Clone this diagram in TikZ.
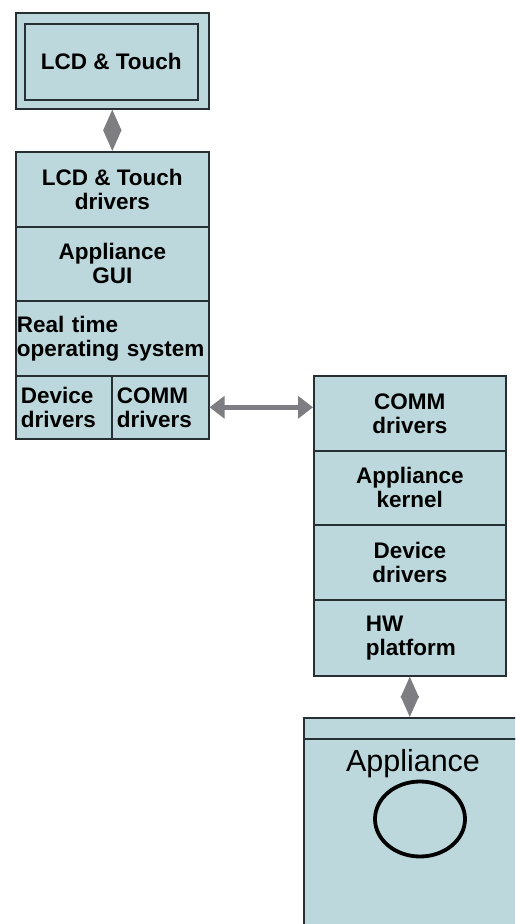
\documentclass[tikz,border=0pt]{standalone}
\usepackage{fontspec}
\setmainfont{Liberation Sans}
\usetikzlibrary{arrows.meta}
\definecolor{cellfill}{RGB}{189,216,220}
\definecolor{cellline}{RGB}{38,48,52}
\definecolor{arrowgray}{RGB}{125,125,130}

\begin{document}
\begin{tikzpicture}[x=1pt,y=-1pt,
    cell/.style={draw=cellline,fill=cellfill,line width=1.6pt,anchor=north west,inner sep=0pt,align=center,font=\bfseries\fontsize{22.5}{24}\selectfont},
    link/.style={draw=arrowgray,line width=5pt,{Triangle[length=15pt,width=22pt]}-{Triangle[length=15pt,width=22pt]}},
    kite/.style={draw=arrowgray,line width=2pt,{Triangle[length=21pt,width=18pt]}-{Triangle[length=21pt,width=18pt]}}]
    \useasboundingbox (0,0) rectangle (515,924);
    \clip (0,0) rectangle (515,924);
    \fill[white] (0,0) rectangle (515,924);
    \node[cell,minimum width=193pt,minimum height=96pt] (lcd) at (15,12) {};
    \node[cell,minimum width=173pt,minimum height=76pt] (lcdin) at (24,23) {LCD \& Touch};
    \begin{scope}[every node/.style={cell,minimum width=193pt}]
        \node[minimum height=75pt] (lcddrv) at (15,151) {LCD \& Touch\\drivers};
        \node[minimum height=74pt] (gui) at (15,226) {Appliance\\GUI};
        \node[minimum height=75pt,text width=191pt,align=left] (rtos) at (15,300) {Real time\\operating system};
    \end{scope}
    \node[cell,minimum width=96pt,minimum height=63pt,text width=86pt,align=left] (devl) at (15,375) {Device\\drivers};
    \node[cell,minimum width=97pt,minimum height=63pt,text width=87pt,align=left] (comml) at (111,375) {COMM\\drivers};
    \begin{scope}[every node/.style={cell,minimum width=192pt}]
        \node[minimum height=75pt] (commr) at (313,375) {COMM\\drivers};
        \node[minimum height=74pt] (kernel) at (313,450) {Appliance\\kernel};
        \node[minimum height=75pt] (devr) at (313,524) {Device\\drivers};
        \node[minimum height=76pt,text width=88pt,align=left] (hw) at (313,599) {HW\\platform};
    \end{scope}
    \node[cell,minimum width=230pt,minimum height=21pt] (apptop) at (303,717) {};
    \node[cell,minimum width=230pt,minimum height=200pt] (app) at (303,738) {};
    \node[anchor=base,inner sep=0pt,font=\fontsize{30.5}{36}\selectfont] (applabel) at (413,771) {Appliance};
    \draw[line width=3.8pt,black] (420,819) ellipse [x radius=45pt,y radius=37.5pt];
    \draw[kite] (lcd.south) -- (lcddrv.north);
    \draw[link] (comml.east) -- (comml.east -| commr.west);
    \draw[kite] (hw.south) -- (hw.south |- apptop.north);
\end{tikzpicture}
\end{document}
